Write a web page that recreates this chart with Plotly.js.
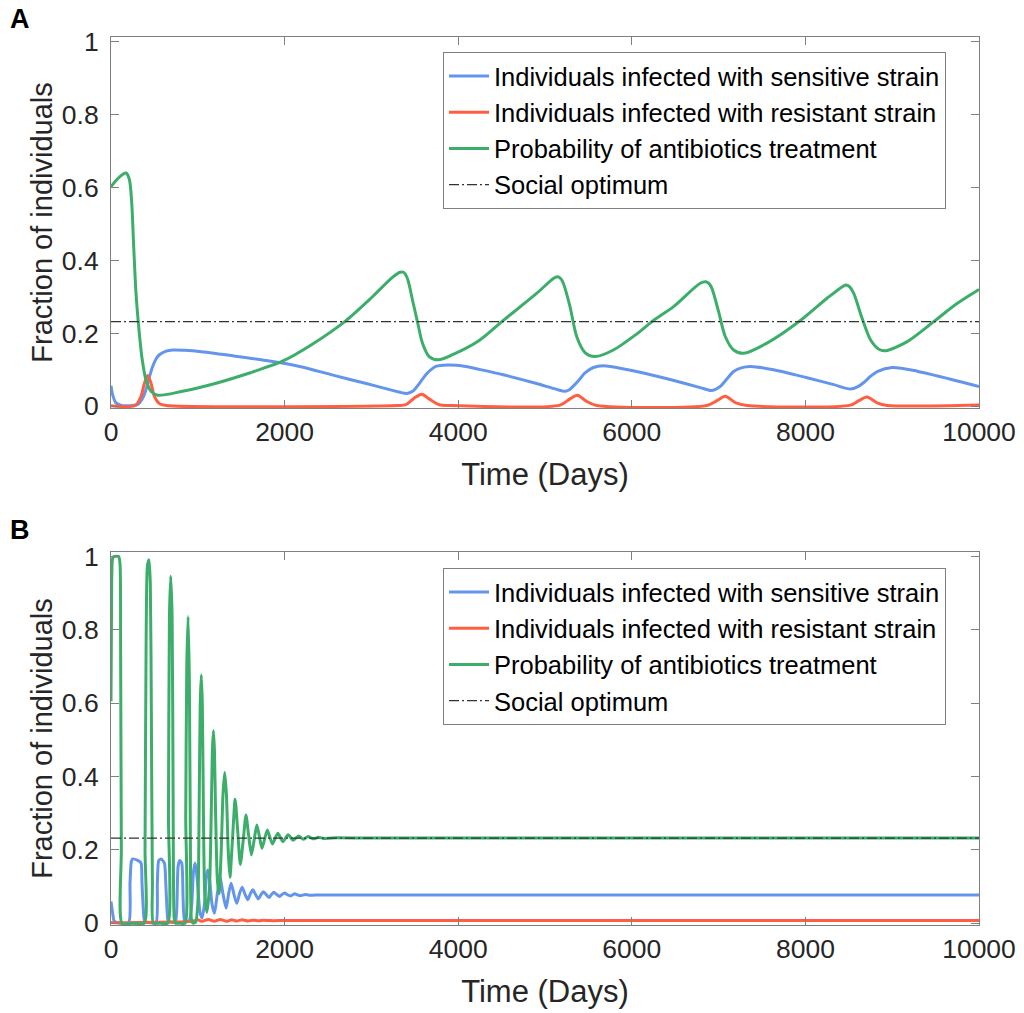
<!DOCTYPE html>
<html>
<head>
<meta charset="utf-8">
<script src="https://cdn.plot.ly/plotly-3.0.1.min.js"></script>
<style>html,body{margin:0;padding:0;background:#fff;}#chart{width:1024px;height:1013px;}</style>
</head>
<body>
<div id="chart"></div>
<script>
// ---------- Data: panel A ----------
const aBlueT = [0,19,57,120,173,250,308,360,403,440,480,520,558,635,711,850,1019,1404,1788,2173,2558,2942,3200,3330,3408,3470,3512,3570,3627,3690,3742,3877,4088,4242,4519,4903,5134,5230,5280,5326,5400,5461,5557,5672,5865,6134,6442,6788,6911,6965,7019,7100,7173,7260,7365,7634,8019,8327,8519,8600,8673,8750,8827,9000,9288,9673,10000];
const aBlueV = [0.056,0.031,0.009,0.002,0.001,0.002,0.005,0.020,0.045,0.078,0.109,0.130,0.141,0.151,0.154,0.153,0.150,0.138,0.125,0.109,0.085,0.062,0.046,0.038,0.035,0.040,0.050,0.068,0.086,0.101,0.109,0.113,0.109,0.101,0.086,0.062,0.046,0.041,0.045,0.055,0.074,0.091,0.106,0.111,0.104,0.091,0.073,0.051,0.043,0.046,0.054,0.076,0.095,0.105,0.109,0.100,0.078,0.059,0.047,0.053,0.065,0.082,0.095,0.106,0.096,0.074,0.054];

const aRedT = [0,280,346,385,423,461,500,558,635,3300,3396,3492,3581,3665,3781,3900,5172,5288,5373,5480,5596,6865,6981,7077,7192,7327,8519,8615,8711,8827,8942,10000];
const aRedV = [0.001,0.002,0.027,0.063,0.084,0.063,0.027,0.007,0.002,0.002,0.004,0.022,0.033,0.020,0.004,0.002,0.003,0.020,0.030,0.013,0.002,0.002,0.015,0.027,0.010,0.002,0.003,0.015,0.025,0.009,0.002,0.003];

const aGreenT = [0,96,173,211,238,261,288,319,357,403,461,538,808,1211,1596,1981,2319,2704,3012,3242,3330,3370,3415,3473,3530,3588,3665,3773,3935,4242,4519,4903,5096,5142,5180,5211,5288,5365,5461,5576,5788,6057,6249,6481,6788,6854,6890,6923,7000,7077,7173,7288,7557,7942,8250,8442,8473,8510,8557,8653,8750,8846,8923,9173,9480,9750,10000];
const aGreenV = [0.602,0.628,0.639,0.622,0.560,0.440,0.310,0.218,0.132,0.072,0.041,0.030,0.040,0.063,0.091,0.124,0.170,0.234,0.300,0.353,0.367,0.367,0.350,0.291,0.232,0.173,0.136,0.127,0.141,0.180,0.235,0.309,0.350,0.355,0.350,0.337,0.273,0.191,0.147,0.136,0.154,0.198,0.235,0.273,0.337,0.341,0.336,0.323,0.259,0.191,0.154,0.145,0.173,0.235,0.296,0.330,0.332,0.327,0.309,0.241,0.182,0.156,0.152,0.177,0.232,0.282,0.320];

// ---------- Data: panel B ----------
const bBlueT = [0,19,38,80,203,219,234,250,307,346,357,373,388,450,519,534,550,577,615,631,646,661,740,757,773,792,815,831,850,900,930,950,969,985,1000,1025,1050,1080,1100,1115,1135,1165,1192,1225,1257,1290,1326,1355,1384,1420,1450,1480,1511,1545,1576,1605,1634,1665,1699,1728,1757,1790,1819,1848,1876,1910,1942,1970,2000,2035,2065,2090,2119,2150,2180,2240,2300,2400,3000,10000];
const bBlueV = [0.059,0.027,0.005,0.001,0.001,0.109,0.168,0.175,0.171,0.164,0.109,0.036,0.005,0.001,0.001,0.109,0.171,0.175,0.164,0.109,0.036,0.005,0.003,0.036,0.155,0.171,0.164,0.064,0.005,0.006,0.050,0.140,0.164,0.140,0.100,0.030,0.014,0.060,0.130,0.145,0.120,0.050,0.027,0.080,0.125,0.080,0.041,0.080,0.109,0.075,0.054,0.080,0.098,0.078,0.064,0.080,0.091,0.078,0.066,0.078,0.086,0.077,0.070,0.078,0.084,0.078,0.073,0.078,0.082,0.077,0.074,0.077,0.080,0.077,0.075,0.078,0.076,0.077,0.077,0.077];

const bRedT = [0,100,400,700,850,950,1000,1050,1120,1190,1260,1330,1390,1450,1510,1580,1640,1700,1760,1830,2000,10000];
const bRedV = [0.002,0.001,0.002,0.003,0.004,0.006,0.009,0.005,0.010,0.005,0.010,0.005,0.009,0.006,0.009,0.006,0.008,0.0065,0.008,0.007,0.007,0.007];

const bGreenT = [0,8,19,38,88,104,111,119,127,250,384,392,404,419,438,453,465,477,488,560,654,662,673,688,704,715,727,740,790,854,861,873,888,903,915,927,945,975,1000,1015,1028,1040,1052,1065,1080,1105,1135,1155,1168,1180,1192,1205,1225,1245,1270,1290,1310,1330,1350,1370,1400,1430,1460,1490,1525,1555,1585,1618,1650,1680,1710,1740,1800,1830,1860,1922,1980,2040,2100,2160,2215,2270,2330,2390,2450,2550,3000,10000];
const bGreenV = [0.605,0.930,0.995,1.000,1.000,0.980,0.745,0.200,0.000,0.000,0.000,0.200,0.745,0.973,0.991,0.927,0.564,0.109,0.000,0.000,0.000,0.290,0.836,0.947,0.836,0.380,0.018,0.000,0.000,0.000,0.290,0.700,0.836,0.655,0.200,0.010,0.000,0.003,0.050,0.300,0.600,0.677,0.600,0.300,0.080,0.030,0.100,0.300,0.470,0.525,0.470,0.300,0.120,0.080,0.200,0.350,0.411,0.350,0.200,0.125,0.230,0.338,0.250,0.160,0.230,0.295,0.240,0.186,0.228,0.268,0.236,0.204,0.254,0.235,0.216,0.245,0.222,0.241,0.226,0.238,0.229,0.236,0.230,0.234,0.231,0.2325,0.232,0.232];

const optimumT = [0, 10000];
const optimumValue = 0.232;

const seriesNames = ['Individuals infected with sensitive strain','Individuals infected with resistant strain','Probability of antibiotics treatment','Social optimum'];
const xTickVals = [0,2000,4000,6000,8000,10000];
const xTickText = ['0','2000','4000','6000','8000','10000'];
const yTickVals = [0,0.2,0.4,0.6,0.8,1];
const yTickText = ['0','0.2','0.4','0.6','0.8','1'];

// ---------- Styles ----------
const colBlue = 'rgb(100,149,237)';
const colRed = 'rgb(255,95,65)';
const colGreen = 'rgb(60,174,106)';
const lw = 3;

function panel(xa, ya, lg, bt, bv, rt, rv, gt, gv, sm) {
  return [
    {x: bt, y: bv, xaxis: xa, yaxis: ya, legend: lg, type: 'scatter', mode: 'lines', name: seriesNames[0], line: {color: colBlue, width: lw, shape: 'spline', smoothing: sm}},
    {x: rt, y: rv, xaxis: xa, yaxis: ya, legend: lg, type: 'scatter', mode: 'lines', name: seriesNames[1], line: {color: colRed, width: lw, shape: 'spline', smoothing: sm}},
    {x: gt, y: gv, xaxis: xa, yaxis: ya, legend: lg, type: 'scatter', mode: 'lines', name: seriesNames[2], line: {color: colGreen, width: lw, shape: 'spline', smoothing: sm}},
    {x: optimumT, y: optimumT.map(() => optimumValue), xaxis: xa, yaxis: ya, legend: lg, type: 'scatter', mode: 'lines', name: seriesNames[3], line: {color: '#333333', width: 1.2, dash: '10px,3px,2px,3px'}}
  ];
}

const traces = [].concat(
  panel('x', 'y', 'legend', aBlueT, aBlueV, aRedT, aRedV, aGreenT, aGreenV, 0.8),
  panel('x2', 'y2', 'legend2', bBlueT, bBlueV, bRedT, bRedV, bGreenT, bGreenV, 0.6)
);

const fontFam = 'Liberation Sans, Arial, Helvetica, sans-serif';
const tickFont = {family: fontFam, size: 26.5, color: '#262626'};
const xTitleFont = {family: fontFam, size: 31, color: '#262626'};
const yTitleFont = {family: fontFam, size: 29, color: '#262626'};

function xAxis(anchor) {
  return {anchor: anchor, range: [0, 10000], tickvals: xTickVals, ticktext: xTickText, ticks: 'inside', ticklen: 8, tickcolor: '#808080', tickwidth: 1,
    ticklabelstandoff: 0,
    showline: true, linecolor: '#808080', linewidth: 1, mirror: 'allticks', showgrid: false, zeroline: false, tickfont: tickFont,
    title: {text: 'Time (Days)', font: xTitleFont, standoff: 17}};
}
function yAxis(anchor, domain) {
  return {anchor: anchor, domain: domain, range: [-0.005, 1.012], tickvals: yTickVals, ticktext: yTickText, ticks: 'inside', ticklen: 8, tickcolor: '#808080', tickwidth: 1,
    ticklabelstandoff: 6,
    showline: true, linecolor: '#808080', linewidth: 1, mirror: 'allticks', showgrid: false, zeroline: false, tickfont: tickFont,
    title: {text: 'Fraction of individuals', font: yTitleFont, standoff: 0}};
}

const legendStyle = {xanchor: 'left', yanchor: 'top', bgcolor: '#ffffff', bordercolor: '#808080', borderwidth: 1,
  font: {family: fontFam, size: 25.5, color: '#000000'}, tracegroupgap: 0, itemwidth: 40};

const layout = {
  width: 1024, height: 1013,
  margin: {l: 111, r: 45, t: 37, b: 88},
  paper_bgcolor: '#ffffff', plot_bgcolor: '#ffffff',
  showlegend: true,
  xaxis: xAxis('y'),
  yaxis: yAxis('x', [0.5822, 1]),
  xaxis2: xAxis('y2'),
  yaxis2: yAxis('x2', [0, 0.42]),
  legend: Object.assign({x: 0.3825, y: 0.9831}, legendStyle),
  legend2: Object.assign({x: 0.3825, y: 0.402}, legendStyle),
  annotations: [
    {text: '<b>A</b>', xref: 'paper', yref: 'paper', x: -0.1048, y: 1.0203, xanchor: 'center', yanchor: 'middle', showarrow: false, font: {family: fontFam, size: 27, color: '#000'}},
    {text: '<b>B</b>', xref: 'paper', yref: 'paper', x: -0.1048, y: 0.4448, xanchor: 'center', yanchor: 'middle', showarrow: false, font: {family: fontFam, size: 27, color: '#000'}}
  ]
};

Plotly.newPlot('chart', traces, layout, {displayModeBar: false, staticPlot: true});
</script>
</body>
</html>
